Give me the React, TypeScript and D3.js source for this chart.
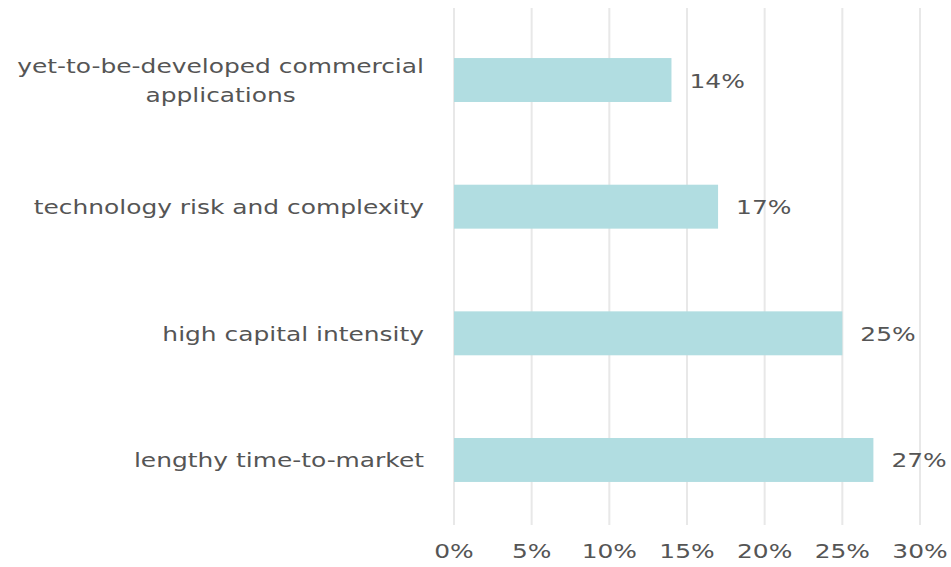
import React from "react";
import * as d3 from "d3";

const categories: string[][] = [
  ["yet-to-be-developed commercial", "applications"],
  ["technology risk and complexity"],
  ["high capital intensity"],
  ["lengthy time-to-market"],
];
const values: number[] = [14, 17, 25, 27];
const ticks: number[] = [0, 5, 10, 15, 20, 25, 30];

const W = 951;
const H = 567;
const SX = 1.245;
const FS = 20;
const FONT = "DejaVu Sans, Verdana, sans-serif";
const TEXT = "#555555";

function measure(s: string): number {
  const c = document.createElement("canvas").getContext("2d");
  if (!c) return s.length * FS * 0.55;
  c.font = `${FS}px "DejaVu Sans"`;
  return c.measureText(s).width;
}

export default function App() {
  const x = d3.scaleLinear().domain([0, 30]).range([454, 920]);
  const keys = categories.map((c) => c.join(" "));
  const y = d3
    .scaleBand<string>()
    .domain(keys)
    .range([16.7, 523.3])
    .paddingInner(0.653)
    .paddingOuter(0.3265);
  const fmt = (v: number) => `${v}%`;
  const labelRight = 424;

  return (
    <svg
      width={W}
      height={H}
      style={{ position: "absolute", left: 0, top: 0, background: "#fff" }}
      fontFamily={FONT}
    >
      {ticks.map((t) => (
        <line
          key={"g" + t}
          x1={x(t)}
          x2={x(t)}
          y1={8}
          y2={525}
          stroke="#e8e8e8"
          strokeWidth={2}
        />
      ))}
      {values.map((v, i) => (
        <rect
          key={"b" + i}
          x={x(0)}
          y={y(keys[i])!}
          width={x(v) - x(0)}
          height={y.bandwidth()}
          fill="#b1dde1"
        />
      ))}
      {values.map((v, i) => {
        const cy = y(keys[i])! + y.bandwidth() / 2;
        return (
          <text
            key={"v" + i}
            transform={`translate(${x(v) + 18},${cy + 7.5}) scale(${SX},1)`}
            fontSize={FS}
            fill={TEXT}
            textAnchor="start"
          >
            {fmt(v)}
          </text>
        );
      })}
      {categories.map((lines, i) => {
        const cy = y(keys[i])! + y.bandwidth() / 2;
        const widths = lines.map((l) => measure(l) * SX);
        const blockW = Math.max(...widths);
        const center = labelRight - blockW / 2;
        const lh = 29;
        return (
          <g key={"c" + i}>
            {lines.map((ln, j) => (
              <text
                key={j}
                transform={`translate(${center},${cy + 7.5 + (j - (lines.length - 1) / 2) * lh}) scale(${SX},1)`}
                fontSize={FS}
                fill={TEXT}
                textAnchor="middle"
              >
                {ln}
              </text>
            ))}
          </g>
        );
      })}
      {ticks.map((t) => (
        <text
          key={"t" + t}
          transform={`translate(${x(t)},558) scale(${SX},1)`}
          fontSize={FS}
          fill={TEXT}
          textAnchor="middle"
        >
          {fmt(t)}
        </text>
      ))}
    </svg>
  );
}
